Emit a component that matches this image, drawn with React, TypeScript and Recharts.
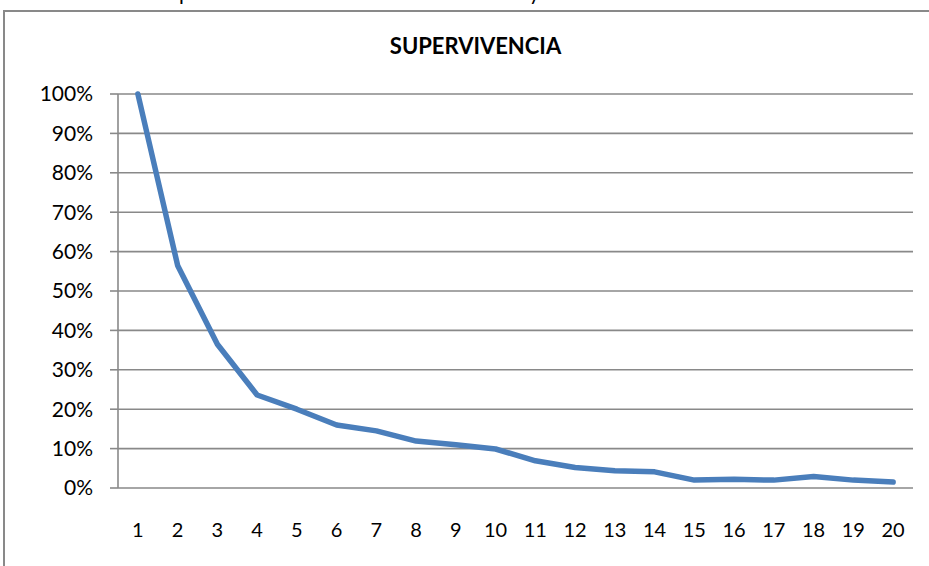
import React from 'react';
import { LineChart, Line, XAxis, YAxis, CartesianGrid } from 'recharts';

const periods = [1, 2, 3, 4, 5, 6, 7, 8, 9, 10, 11, 12, 13, 14, 15, 16, 17, 18, 19, 20];
const survival = [1.0, 0.565, 0.365, 0.236, 0.2, 0.16, 0.145, 0.119, 0.11, 0.099, 0.069, 0.052, 0.044, 0.041, 0.02, 0.022, 0.02, 0.029, 0.02, 0.015];
const yTicks = [0, 0.1, 0.2, 0.3, 0.4, 0.5, 0.6, 0.7, 0.8, 0.9, 1.0];
const boundaryTicks = [0.5, 1.5, 2.5, 3.5, 4.5, 5.5, 6.5, 7.5, 8.5, 9.5, 10.5, 11.5, 12.5, 13.5, 14.5, 15.5, 16.5, 17.5, 18.5, 19.5, 20.5];

const data = periods.map((p, i) => ({ period: p, value: survival[i] }));

const FONT = 'Lato, "Open Sans", sans-serif';
const AXIS_GREY = '#898989';

const App: React.FC = () => {
  return (
    <div style={{ position: 'absolute', left: 0, top: 0, width: 929, height: 566, overflow: 'hidden', background: '#fff', fontFamily: FONT }}>
      {/* text from the page above, cut off by the crop */}
      <svg width={929} height={12} style={{ position: 'absolute', left: 0, top: 0 }}>
        <text x={179} y={0} fontSize={21} fontFamily={FONT} fill="#000">p</text>
        <text x={529} y={0} fontSize={21} fontFamily={FONT} fill="#000">y</text>
      </svg>
      <div style={{ position: 'absolute', left: 3, top: 10, width: 1000, height: 1000, border: `2px solid ${AXIS_GREY}` }} />
      <div style={{ position: 'absolute', left: 0, width: 951, top: 35, lineHeight: '22px', textAlign: 'center', fontWeight: 'bold', fontSize: 22, color: '#000' }}>
        SUPERVIVENCIA
      </div>
      <div style={{ position: 'absolute', left: 0, top: 0 }}>
        <LineChart width={929} height={566} data={data} margin={{ top: 94, right: 16, bottom: 28, left: 8 }}>
          <CartesianGrid vertical={false} stroke={AXIS_GREY} strokeWidth={1.6} />
          <XAxis
            xAxisId="ticks"
            dataKey="period"
            type="number"
            domain={[0.5, 20.5]}
            ticks={boundaryTicks}
            tickFormatter={() => ''}
            height={0}
            tickSize={8}
            stroke={AXIS_GREY}
            strokeWidth={1.6}
            interval={0}
          />
          <XAxis
            xAxisId="labels"
            dataKey="period"
            type="number"
            domain={[0.5, 20.5]}
            ticks={periods}
            interval={0}
            height={50}
            axisLine={false}
            tickLine={false}
            tickSize={8}
            tickMargin={27}
            tick={{ fill: '#000', fontSize: 20, fontFamily: FONT }}
          />
          <YAxis
            domain={[0, 1]}
            ticks={yTicks}
            interval={0}
            width={110}
            tickSize={8}
            tickMargin={17}
            stroke={AXIS_GREY}
            strokeWidth={1.6}
            tickFormatter={(v: number) => `${Math.round(v * 100)}%`}
            tick={{ fill: '#000', fontSize: 21, fontFamily: FONT }}
          />
          <Line
            xAxisId="labels"
            type="linear"
            dataKey="value"
            stroke="#4a7ebb"
            strokeWidth={5.5}
            strokeLinejoin="round"
            strokeLinecap="round"
            dot={false}
            isAnimationActive={false}
          />
        </LineChart>
      </div>
    </div>
  );
};

export default App;
